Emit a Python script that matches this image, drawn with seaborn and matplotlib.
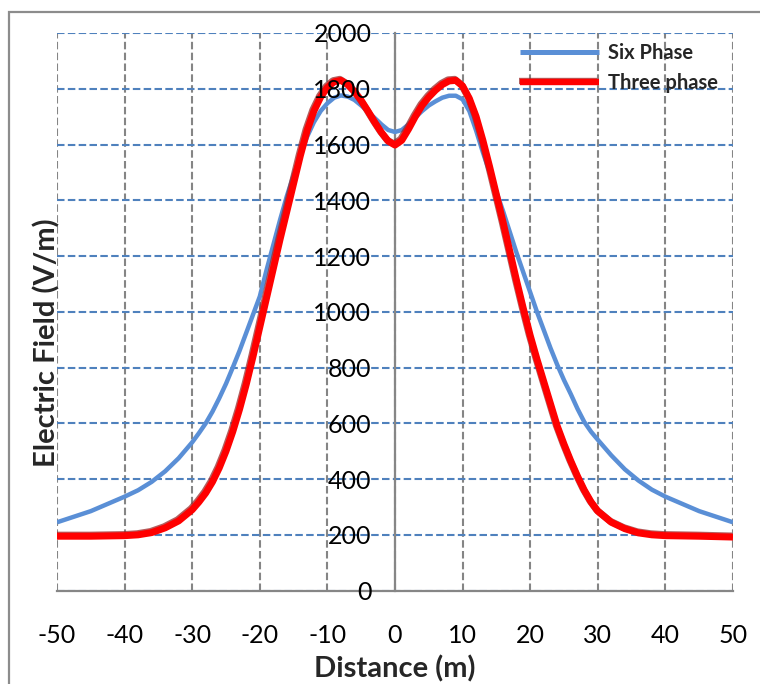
import matplotlib
matplotlib.use("Agg")
import matplotlib.pyplot as plt
import matplotlib.patheffects as pe
from matplotlib.patches import Rectangle
import seaborn as sns
import pandas as pd

# ---- data ----
six_x = [-50, -45, -40, -38, -36, -34, -32, -30, -29, -28, -27, -26, -25, -24, -23, -22, -21, -20, -19, -18, -17, -16,
         -15, -14, -13, -12, -11, -10, -9, -8, -7, -6, -5, -4, -3, -2, -1, 0,
         1, 2, 3, 4, 5, 6, 7, 8, 9, 10, 11, 12, 13, 14, 15, 16, 17, 18, 19, 20,
         21, 22, 23, 24, 25, 26, 27, 28, 29, 30, 32, 34, 36, 38, 40, 45, 50]
six_y = [245, 285, 337, 360, 390, 428, 475, 532, 565, 600, 642, 690, 742, 800, 860, 925, 990, 1055, 1150, 1240, 1330, 1415,
         1490, 1560, 1628, 1680, 1720, 1748, 1768, 1776, 1772, 1760, 1740, 1718, 1695, 1672, 1652, 1645,
         1652, 1672, 1697, 1720, 1740, 1755, 1768, 1775, 1775, 1762, 1720, 1650, 1572, 1500, 1430, 1360, 1285, 1210, 1140, 1070,
         1000, 935, 870, 810, 755, 705, 652, 605, 570, 541, 485, 435, 395, 362, 337, 285, 245]

three_x = [-50, -45, -40, -38, -36, -34, -32, -30, -29, -28, -27, -26, -25, -24, -23, -22, -21, -20, -19, -18, -17, -16,
           -15, -14, -13, -12, -11, -10, -9, -8, -7, -6, -5, -4, -3, -2, -1, 0,
           1, 2, 3, 4, 5, 6, 7, 8, 9, 10, 11, 12, 13, 14, 15, 16, 17, 18, 19, 20,
           21, 22, 23, 24, 25, 26, 27, 28, 29, 30, 32, 34, 36, 38, 40, 45, 50]
three_y = [195, 195, 197, 200, 208, 225, 250, 290, 318, 350, 390, 440, 500, 570, 650, 740, 840, 945, 1050, 1155, 1260, 1360,
           1460, 1560, 1650, 1720, 1770, 1805, 1825, 1830, 1815, 1790, 1758, 1720, 1680, 1643, 1612, 1598,
           1615, 1655, 1700, 1740, 1770, 1795, 1815, 1828, 1830, 1810, 1765, 1700, 1615, 1520, 1420, 1320, 1215, 1110, 1010, 915,
           830, 750, 670, 590, 525, 465, 410, 360, 318, 285, 245, 222, 207, 200, 197, 195, 192]

x_ticks = [-50, -40, -30, -20, -10, 0, 10, 20, 30, 40, 50]
y_ticks = [0, 200, 400, 600, 800, 1000, 1200, 1400, 1600, 1800, 2000]
series_names = ["Six Phase", "Three phase"]
x_label = "Distance (m)"
y_label = "Electric Field (V/m)"

six_df = pd.DataFrame({"x": six_x, "y": six_y})
three_df = pd.DataFrame({"x": three_x, "y": three_y})

sns.set_theme(style="white")
plt.rcParams["font.family"] = ["Lato", "DejaVu Sans"]
plt.rcParams["axes.unicode_minus"] = False

W, H = 760, 684
fig = plt.figure(figsize=(W / 100, H / 100), dpi=100)
fig.patch.set_facecolor("white")

# outer chart border (Excel chart area)
fig.patches.append(Rectangle((9 / W, -0.05), 1.2, 1 - 12 / H + 0.05, transform=fig.transFigure,
                             fill=False, edgecolor="#8c8c8c", linewidth=1.6))

left, right = 57 / W, 733 / W
bottom, top = (H - 590.6) / H, (H - 33) / H
rect = [left, bottom, right - left, top - bottom]
ax = fig.add_axes(rect)
ax.set_facecolor("white")
ax.set_axisbelow(True)

blue = "#5A8FD6"
red = "#FF0000"

sns.lineplot(data=six_df, x="x", y="y", ax=ax, color=blue, linewidth=3.2,
             label=series_names[0], zorder=3)
sns.lineplot(data=three_df, x="x", y="y", ax=ax, color=red, linewidth=5.0,
             label=series_names[1], zorder=4)
red_line = ax.get_lines()[-1]
red_line.set_path_effects([pe.SimpleLineShadow(offset=(-0.8, 0.8), shadow_color="#9a2a2a", alpha=0.75),
                           pe.Normal()])
for ln in ax.get_lines():
    ln.set_solid_capstyle("butt")
    ln.set_solid_joinstyle("round")

ax.set_xlim(-50, 50)
ax.set_ylim(0, 2000)
ax.set_xticks(x_ticks)
ax.set_yticks(y_ticks)

# grid
ax.xaxis.grid(True, color="#858585", linestyle=(0, (3.6, 1.6)), linewidth=1.5)
ax.yaxis.grid(True, color="#4F81BD", linestyle=(0, (3.6, 1.6)), linewidth=1.5)

# spines
for s in ["top", "right"]:
    ax.spines[s].set_visible(False)
ax.spines["left"].set_position(("data", 0))
for s in ["left", "bottom"]:
    ax.spines[s].set_color("#868686")
    ax.spines[s].set_linewidth(1.6)

ax.tick_params(axis="both", which="both", direction="out", width=1.6, color="#868686",
               labelleft=False, labelbottom=False)
ax.tick_params(axis="y", length=5)
ax.tick_params(axis="x", length=8)
ax.set_xlabel("")
ax.set_ylabel("")

# overlay axes carrying the tick labels so they sit above the curves (as in Excel)
ax2 = fig.add_axes(rect, sharex=ax, sharey=ax)
ax2.set_facecolor("none")
ax2.grid(False)
for s in ax2.spines.values():
    s.set_visible(False)
ax2.spines["left"].set_position(("data", 0))
ax2.tick_params(axis="both", length=0, labelsize=18, labelcolor="black")
ax2.tick_params(axis="y", pad=17)
ax2.tick_params(axis="x", pad=24)
ax2.set_xlabel(x_label, fontsize=21, fontweight="bold", labelpad=6)
ax2.set_ylabel("")
fig.text(47 / W, 1 - 343 / H, y_label, rotation=90, ha="center", va="center",
         fontsize=21, fontweight="bold")

leg = ax.legend(loc="upper left", bbox_to_anchor=((520 - 57) / 676, (590.6 - 43) / 557.6),
                frameon=False, fontsize=14.5, handlelength=3.9, handletextpad=0.45,
                labelspacing=0.5, borderpad=0, borderaxespad=0)
for t in leg.get_texts():
    t.set_fontweight("bold")
leg_lines = leg.get_lines()
leg_lines[0].set_linewidth(3.6)
leg_lines[1].set_linewidth(4.6)

fig.savefig("out.png", dpi=100, facecolor="white")
